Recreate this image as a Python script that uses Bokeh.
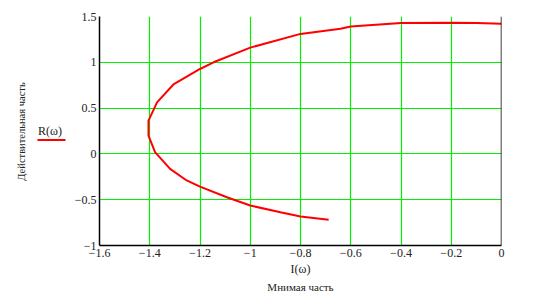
from bokeh.plotting import figure
from bokeh.models import Range1d, FixedTicker, Span, Title
from bokeh.layouts import row
from bokeh.embed import file_html
from bokeh.resources import INLINE

# Curve: imaginary part (x) vs real part (y)
imag_part = [-0.688, -0.80, -0.88, -1.0, -1.093, -1.2, -1.253, -1.319, -1.379, -1.405,
             -1.405, -1.371, -1.304, -1.2, -1.146, -1.0, -0.8, -0.641, -0.6, -0.5,
             -0.4, -0.2, -0.1, 0.0]
real_part = [-0.72, -0.684, -0.637, -0.564, -0.473, -0.357, -0.29, -0.164, 0.02, 0.2,
             0.363, 0.563, 0.763, 0.927, 1.0, 1.16, 1.31, 1.366, 1.39, 1.41,
             1.43, 1.432, 1.43, 1.42]

x_ticks = [-1.6, -1.4, -1.2, -1.0, -0.8, -0.6, -0.4, -0.2, 0.0]
x_tick_labels = ["\u22121.6", "\u22121.4", "\u22121.2", "\u22121", "\u22120.8",
                 "\u22120.6", "\u22120.4", "\u22120.2", "0"]
y_ticks = [-1.0, -0.5, 0.0, 0.5, 1.0, 1.5]
y_tick_labels = ["\u22121", "\u22120.5", "0", "0.5", "1", "1.5"]

x_title = "\u041c\u043d\u0438\u043c\u0430\u044f \u0447\u0430\u0441\u0442\u044c"
y_title = "\u0414\u0435\u0439\u0441\u0442\u0432\u0438\u0442\u0435\u043b\u044c\u043d\u0430\u044f \u0447\u0430\u0441\u0442\u044c"
x_func = "I(\u03c9)"
y_func = "R(\u03c9)"

FONT = "Liberation Serif"
TXT = "#222222"
LEFT_W = 70
H = 300
TOP, BOTTOM = 16, 55

p = figure(width=533 - LEFT_W, height=H, output_backend="svg", toolbar_location=None,
           x_range=Range1d(-1.6, 0), y_range=Range1d(-1, 1.5),
           min_border_left=99 - LEFT_W, min_border_right=32,
           min_border_top=TOP, min_border_bottom=BOTTOM)
p.outline_line_color = None
p.background_fill_color = "white"
p.border_fill_color = "white"

p.xaxis.ticker = FixedTicker(ticks=x_ticks)
p.yaxis.ticker = FixedTicker(ticks=y_ticks)
p.xaxis.major_label_overrides = {t: l for t, l in zip(x_ticks, x_tick_labels)}
p.yaxis.major_label_overrides = {t: l for t, l in zip(y_ticks, y_tick_labels)}
for ax in (p.xaxis, p.yaxis):
    ax.major_tick_out = 0
    ax.major_tick_in = 0
    ax.minor_tick_out = 0
    ax.minor_tick_in = 0
    ax.axis_line_color = "black"
    ax.axis_line_width = 1.5
    ax.major_label_text_font = FONT
    ax.major_label_text_font_size = "12px"
    ax.major_label_text_color = TXT
    ax.major_label_standoff = 3

p.xaxis.axis_label = x_func
p.xaxis.axis_label_text_font = FONT
p.xaxis.axis_label_text_font_style = "normal"
p.xaxis.axis_label_text_font_size = "12px"
p.xaxis.axis_label_text_color = TXT
p.xaxis.axis_label_standoff = 2

p.add_layout(Title(text=x_title, align="center", text_font=FONT, text_font_size="11px",
                   text_font_style="normal", text_color=TXT, standoff=0), "below")

p.xgrid.ticker = FixedTicker(ticks=x_ticks)
p.ygrid.ticker = FixedTicker(ticks=y_ticks)
p.grid.grid_line_color = "#00f000"
p.grid.grid_line_width = 1.2
p.grid.grid_line_alpha = 1.0

p.add_layout(Span(location=0, dimension="height", line_color="black", line_width=1.5))

p.line(imag_part, real_part, line_color="#ff0000", line_width=2)

# Left strip holding the vertical title and the legend-like function label.
# Its frame is aligned with the main frame (rows 16..245), so map pixel rows accordingly.
left = figure(width=LEFT_W, height=H, output_backend="svg", toolbar_location=None,
              x_range=Range1d(0, LEFT_W), y_range=Range1d(BOTTOM, H - TOP),
              x_axis_type=None, y_axis_type=None,
              min_border=0, min_border_left=0, min_border_right=0,
              min_border_top=TOP, min_border_bottom=BOTTOM)
left.grid.visible = False
left.outline_line_color = None
left.background_fill_color = "white"
left.border_fill_color = "white"

left.text(x=[21], y=[H - 131], text=[y_title], angle=1.5708, text_font="Liberation Serif",
          text_font_size="10.5px", text_align="center", text_baseline="middle", text_color=TXT)
left.text(x=[49.5], y=[H - 130], text=[y_func], text_font="Liberation Serif",
          text_font_size="12px", text_align="center", text_baseline="middle", text_color=TXT)
left.segment(x0=[37], y0=[H - 139.5], x1=[65], y1=[H - 139.5], line_color="#ff0000", line_width=2)

layout = row(left, p, spacing=0)
open("out.html", "w").write(file_html(layout, INLINE))
